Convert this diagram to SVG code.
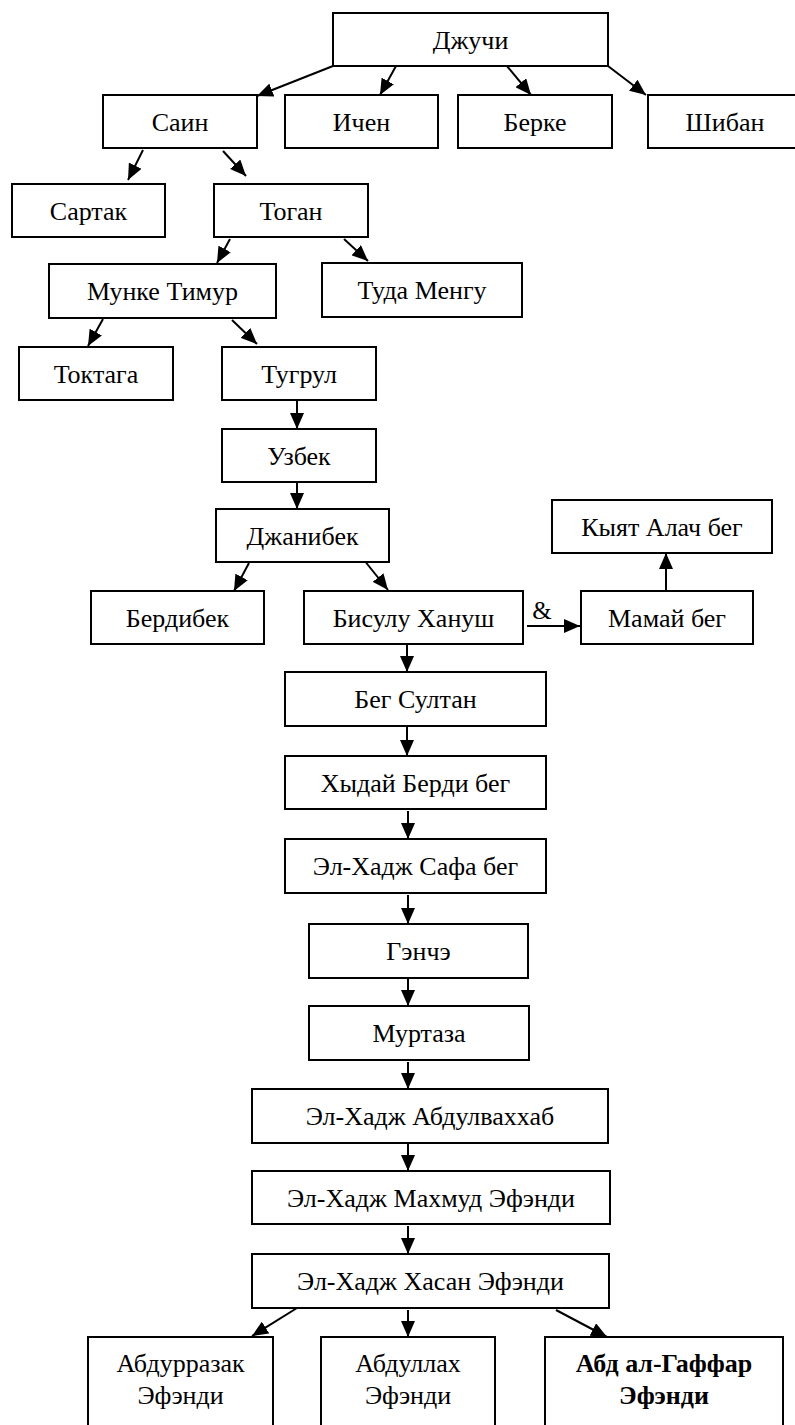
<svg xmlns="http://www.w3.org/2000/svg" width="795" height="1425" viewBox="0 0 795 1425">
<style>
.b{fill:#fff;stroke:#000;stroke-width:2}
.t{font-family:"Liberation Serif","Times New Roman",serif;font-size:26px;fill:#000;text-anchor:middle}
.bold{font-weight:bold}
.c{stroke:#000;stroke-width:2;fill:none;marker-end:url(#ah)}
</style>
<defs>
<marker id="ah" markerUnits="userSpaceOnUse" markerWidth="16" markerHeight="14" refX="16" refY="7" orient="auto">
<path d="M0,0 L16,7 L0,14 z" fill="#000"/>
</marker>
</defs>
<rect width="795" height="1425" fill="#fff"/>
<g id="connectors">
<line class="c" x1="333" y1="66" x2="257" y2="96"/>
<line class="c" x1="396" y1="66" x2="380" y2="95"/>
<line class="c" x1="507" y1="66" x2="531" y2="95"/>
<line class="c" x1="608" y1="66" x2="646" y2="95"/>
<line class="c" x1="143" y1="150" x2="128" y2="180"/>
<line class="c" x1="223" y1="151" x2="246" y2="176"/>
<line class="c" x1="230" y1="239" x2="217" y2="263"/>
<line class="c" x1="344" y1="239" x2="368" y2="261"/>
<line class="c" x1="103" y1="319" x2="88" y2="346"/>
<line class="c" x1="232" y1="320" x2="257" y2="344"/>
<line class="c" x1="297" y1="400" x2="297" y2="429"/>
<line class="c" x1="297" y1="482" x2="297" y2="509"/>
<line class="c" x1="249" y1="563" x2="234" y2="591"/>
<line class="c" x1="364" y1="560" x2="388" y2="590"/>
<line class="c" x1="527" y1="626" x2="580" y2="626"/>
<text class="t" x="542" y="619" style="font-size:25px">&amp;</text>
<line class="c" x1="666" y1="591" x2="666" y2="553"/>
<line class="c" x1="407" y1="644" x2="407" y2="672"/>
<line class="c" x1="407" y1="727" x2="407" y2="756"/>
<line class="c" x1="408" y1="811" x2="408" y2="839"/>
<line class="c" x1="408" y1="895" x2="408" y2="924"/>
<line class="c" x1="408" y1="979" x2="408" y2="1006"/>
<line class="c" x1="408" y1="1062" x2="408" y2="1089"/>
<line class="c" x1="408" y1="1144" x2="408" y2="1171"/>
<line class="c" x1="408" y1="1226" x2="408" y2="1254"/>
<line class="c" x1="297" y1="1308" x2="252" y2="1336"/>
<line class="c" x1="408" y1="1310" x2="408" y2="1337"/>
<line class="c" x1="556" y1="1310" x2="607" y2="1337"/>
</g>
<g id="n-djuchi"><rect class="b" x="333" y="13" width="275" height="53"/><text class="t" x="470.5" y="49">Джучи</text></g>
<g id="n-sain"><rect class="b" x="103" y="95" width="154" height="53"/><text class="t" x="180" y="131">Саин</text></g>
<g id="n-ichen"><rect class="b" x="285" y="95" width="153" height="53"/><text class="t" x="361.5" y="131">Ичен</text></g>
<g id="n-berke"><rect class="b" x="458" y="95" width="154" height="53"/><text class="t" x="535" y="131">Берке</text></g>
<g id="n-shiban"><rect class="b" x="648" y="95" width="154" height="53"/><text class="t" x="725" y="131">Шибан</text></g>
<g id="n-sartak"><rect class="b" x="12" y="184" width="153" height="53"/><text class="t" x="88.5" y="220">Сартак</text></g>
<g id="n-togan"><rect class="b" x="214" y="184" width="154" height="53"/><text class="t" x="291" y="220">Тоган</text></g>
<g id="n-munke"><rect class="b" x="49" y="264" width="227" height="54"/><text class="t" x="162.5" y="300">Мунке Тимур</text></g>
<g id="n-tuda"><rect class="b" x="322" y="263" width="200" height="54"/><text class="t" x="422" y="299">Туда Менгу</text></g>
<g id="n-toktaga"><rect class="b" x="19" y="347" width="154" height="53"/><text class="t" x="96" y="383">Токтага</text></g>
<g id="n-tugrul"><rect class="b" x="222" y="347" width="154" height="53"/><text class="t" x="299" y="383">Тугрул</text></g>
<g id="n-uzbek"><rect class="b" x="222" y="429" width="154" height="53"/><text class="t" x="299" y="465">Узбек</text></g>
<g id="n-djanibek"><rect class="b" x="216" y="509" width="173" height="53"/><text class="t" x="302.5" y="545">Джанибек</text></g>
<g id="n-kyat"><rect class="b" x="552" y="500" width="220" height="53"/><text class="t" x="662" y="536">Кыят Алач бег</text></g>
<g id="n-berdibek"><rect class="b" x="91" y="591" width="173" height="53"/><text class="t" x="177.5" y="627">Бердибек</text></g>
<g id="n-bisulu"><rect class="b" x="304" y="591" width="219" height="53"/><text class="t" x="413.5" y="627">Бисулу Хануш</text></g>
<g id="n-mamai"><rect class="b" x="581" y="591" width="172" height="53"/><text class="t" x="667" y="627">Мамай бег</text></g>
<g id="n-begsultan"><rect class="b" x="285" y="672" width="261" height="54"/><text class="t" x="415.5" y="708">Бег Султан</text></g>
<g id="n-khydai"><rect class="b" x="285" y="756" width="261" height="53"/><text class="t" x="415.5" y="792">Хыдай Берди бег</text></g>
<g id="n-safa"><rect class="b" x="285" y="839" width="261" height="54"/><text class="t" x="415.5" y="875">Эл-Хадж Сафа бег</text></g>
<g id="n-genche"><rect class="b" x="309" y="924" width="219" height="54"/><text class="t" x="418.5" y="960">Гэнчэ</text></g>
<g id="n-murtaza"><rect class="b" x="309" y="1006" width="220" height="54"/><text class="t" x="419" y="1042">Муртаза</text></g>
<g id="n-abdulvakhhab"><rect class="b" x="252" y="1089" width="356" height="54"/><text class="t" x="430" y="1125">Эл-Хадж Абдулваххаб</text></g>
<g id="n-makhmud"><rect class="b" x="252" y="1171" width="358" height="53"/><text class="t" x="431" y="1207">Эл-Хадж Махмуд Эфэнди</text></g>
<g id="n-khasan"><rect class="b" x="252" y="1254" width="357" height="54"/><text class="t" x="430.5" y="1290">Эл-Хадж Хасан Эфэнди</text></g>
<g id="n-abdurrazak"><rect class="b" x="88" y="1337" width="185" height="100"/><text class="t" x="180.5" y="1372">Абдурразак</text><text class="t" x="180.5" y="1404">Эфэнди</text></g>
<g id="n-abdullakh"><rect class="b" x="321" y="1337" width="174" height="100"/><text class="t" x="408" y="1372">Абдуллах</text><text class="t" x="408" y="1404">Эфэнди</text></g>
<g id="n-abdalgaffar"><rect class="b" x="545" y="1337" width="238" height="100"/><text class="t bold" x="664" y="1372">Абд ал-Гаффар</text><text class="t bold" x="664" y="1404">Эфэнди</text></g>
</svg>
